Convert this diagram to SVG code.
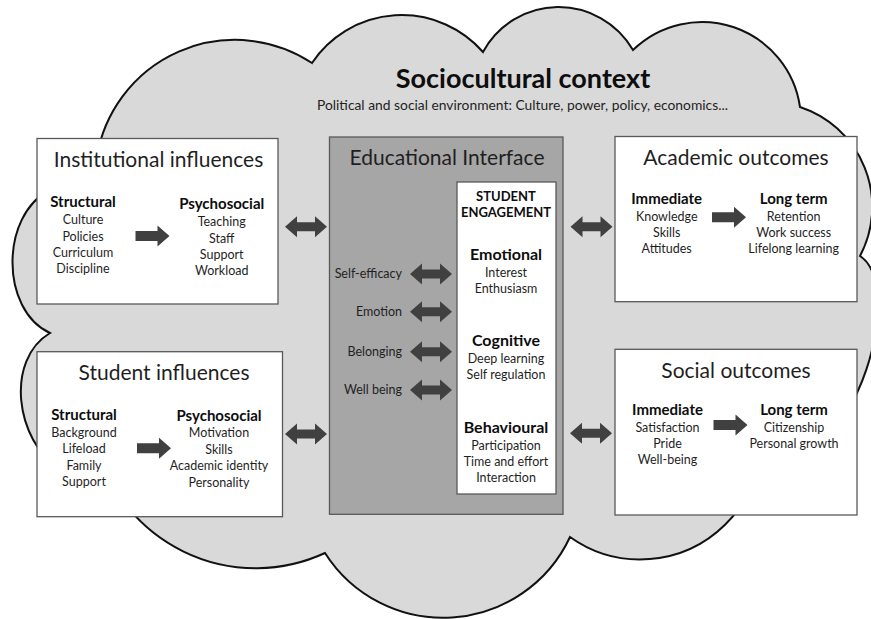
<svg xmlns="http://www.w3.org/2000/svg" width="871" height="619" viewBox="0 0 871 619">
<style>
  text { font-family: Lato, "Open Sans", "Liberation Sans", sans-serif; fill: #1f1f1f; text-anchor: middle; }
  .title { font-size: 27px; font-weight: bold; fill: #0d0d0d; }
  .sub { font-size: 13.5px; }
  .boxtitle { font-size: 21px; }
  .head { font-size: 15px; font-weight: bold; fill: #0d0d0d; }
  .head16 { font-size: 16px; font-weight: bold; fill: #0d0d0d; }
  .caps { font-size: 13px; font-weight: bold; fill: #0d0d0d; }
  .body { font-size: 12.5px; }
  .lab { font-size: 12.5px; text-anchor: end; }
  .box { fill: #ffffff; stroke: #595959; stroke-width: 1.3; }
  .edu { fill: #a6a6a6; stroke: #595959; stroke-width: 1.3; }
  .arr { fill: #404040; }
</style>
<defs>
  <path id="dbl" d="M-21,0 L-9,-10.5 L-9,-4.5 L9,-4.5 L9,-10.5 L21,0 L9,10.5 L9,4.5 L-9,4.5 L-9,10.5 Z"/>
  <path id="rt" d="M-17,-5 L5,-5 L5,-10.5 L17,0 L5,10.5 L5,5 L-17,5 Z"/>
</defs>
<rect width="871" height="619" fill="#ffffff"/>
<g id="context">
  <path d="M97,156 A140,140 0 0 1 312,63 A108,108 0 0 1 483,52 A86,86 0 0 1 633,50 A99,99 0 0 1 800,107 A105,105 0 0 1 860,256 C890,275 880,360 845,415 L740,370 A121,121 0 0 1 570,537 A140,140 0 0 1 325,553 A165,165 0 0 1 95,440 L60,470 C15,440 5,360 50,333 C0,310 0,215 50,190 Z" fill="#d9d9d9" stroke="#111111" stroke-width="2" stroke-linejoin="miter"/>
  <text class="title" x="523" y="88">Sociocultural context</text>
  <text class="sub" x="522.5" y="110" textLength="411" lengthAdjust="spacingAndGlyphs">Political and social environment: Culture, power, policy, economics...</text>
</g>
<g id="institutional">
  <rect class="box" x="37" y="138.5" width="241" height="165.5"/>
  <text class="boxtitle" x="158.5" y="167">Institutional influences</text>
  <text class="head" x="83" y="207">Structural</text>
  <text class="body" x="83" y="224">Culture</text>
  <text class="body" x="83" y="240.5">Policies</text>
  <text class="body" x="83" y="256.5">Curriculum</text>
  <text class="body" x="83" y="272.5">Discipline</text>
  <text class="head" x="221.7" y="209">Psychosocial</text>
  <text class="body" x="221.7" y="226">Teaching</text>
  <text class="body" x="221.7" y="242.5">Staff</text>
  <text class="body" x="221.7" y="258.7">Support</text>
  <text class="body" x="221.7" y="275">Workload</text>
</g>
<g id="student">
  <rect class="box" x="37" y="351.7" width="245.5" height="165"/>
  <text class="boxtitle" x="164" y="380">Student influences</text>
  <text class="head" x="84" y="420">Structural</text>
  <text class="body" x="84" y="436.7">Background</text>
  <text class="body" x="84" y="453">Lifeload</text>
  <text class="body" x="84" y="469.5">Family</text>
  <text class="body" x="84" y="486">Support</text>
  <text class="head" x="219" y="420.7">Psychosocial</text>
  <text class="body" x="219" y="437.3">Motivation</text>
  <text class="body" x="219" y="454">Skills</text>
  <text class="body" x="219" y="470">Academic identity</text>
  <text class="body" x="219" y="486.7">Personality</text>
</g>
<g id="educational">
  <rect class="edu" x="329.5" y="137" width="233.5" height="377.3"/>
  <text class="boxtitle" x="447" y="165">Educational Interface</text>
  <text class="lab" x="402" y="278.3">Self-efficacy</text>
  <text class="lab" x="402" y="316">Emotion</text>
  <text class="lab" x="402" y="356">Belonging</text>
  <text class="lab" x="402" y="394">Well being</text>
</g>
<g id="engagement">
  <rect class="box" x="457" y="182" width="99" height="312"/>
  <text class="caps" x="506" y="200.7">STUDENT</text>
  <text class="caps" x="506" y="217">ENGAGEMENT</text>
  <text class="head16" x="506" y="260">Emotional</text>
  <text class="body" x="506" y="276.7">Interest</text>
  <text class="body" x="506" y="292.7">Enthusiasm</text>
  <text class="head16" x="506" y="345.5">Cognitive</text>
  <text class="body" x="506" y="363.3">Deep learning</text>
  <text class="body" x="506" y="379.3">Self regulation</text>
  <text class="head16" x="506" y="432.7">Behavioural</text>
  <text class="body" x="506" y="450">Participation</text>
  <text class="body" x="506" y="466">Time and effort</text>
  <text class="body" x="506" y="481.7">Interaction</text>
</g>
<g id="academic">
  <rect class="box" x="615" y="136.5" width="242" height="165.2"/>
  <text class="boxtitle" x="736" y="165">Academic outcomes</text>
  <text class="head" x="666.7" y="204">Immediate</text>
  <text class="body" x="666.7" y="220.7">Knowledge</text>
  <text class="body" x="666.7" y="237.3">Skills</text>
  <text class="body" x="666.7" y="253.3">Attitudes</text>
  <text class="head" x="793.7" y="204">Long term</text>
  <text class="body" x="793.7" y="220.7">Retention</text>
  <text class="body" x="793.7" y="237.3">Work success</text>
  <text class="body" x="793.7" y="253.3">Lifelong learning</text>
</g>
<g id="social">
  <rect class="box" x="615" y="349.3" width="242" height="165.7"/>
  <text class="boxtitle" x="736" y="378.3">Social outcomes</text>
  <text class="head" x="667.5" y="415">Immediate</text>
  <text class="body" x="667.5" y="431.7">Satisfaction</text>
  <text class="body" x="667.5" y="448.3">Pride</text>
  <text class="body" x="667.5" y="464.3">Well-being</text>
  <text class="head" x="794" y="415">Long term</text>
  <text class="body" x="794" y="431.7">Citizenship</text>
  <text class="body" x="794" y="448.3">Personal growth</text>
</g>
<g id="connectors" class="arr">
  <use href="#rt" x="152.5" y="236"/>
  <use href="#rt" x="154" y="448.3"/>
  <use href="#rt" x="729" y="217.3"/>
  <use href="#rt" x="730.5" y="425"/>
  <use href="#dbl" x="306" y="226.7"/>
  <use href="#dbl" x="306" y="434"/>
  <use href="#dbl" x="591.5" y="226.7"/>
  <use href="#dbl" x="591" y="433.3"/>
  <use href="#dbl" x="431" y="274"/>
  <use href="#dbl" x="431" y="311.7"/>
  <use href="#dbl" x="431" y="351.7"/>
  <use href="#dbl" x="431" y="390"/>
</g>
</svg>
